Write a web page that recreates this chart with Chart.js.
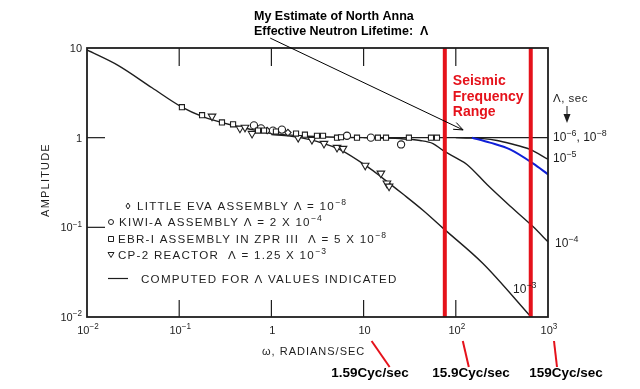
<!DOCTYPE html>
<html>
<head>
<meta charset="utf-8">
<script src="https://cdn.jsdelivr.net/npm/chart.js@4.4.1/dist/chart.umd.min.js"></script>
<style>
  html, body { margin: 0; padding: 0; background: #fff; }
  #wrap { width: 640px; height: 389px; }
</style>
</head>
<body>
<div id="wrap"><canvas id="chart" width="640" height="389"></canvas></div>
<script>
// values: omega in rad/sec, amplitude
const commonOmega = [0.01, 0.0217, 0.0507, 0.107, 0.177, 0.384, 0.62, 1.0];
const commonAmp = [9.5, 6.4, 3.6, 2.19, 1.73, 1.37, 1.23, 1.11];
const flatOmega = [1.0, 2.0, 5.55, 10, 100, 1000];
const flatAmp = [1.11, 1.05, 1.01, 1.0, 1.0, 1.0];
const lam5Omega = [100, 143, 197, 280, 387, 638, 1000];
const lam5Amp = [1.0, 0.99, 0.975, 0.93, 0.86, 0.74, 0.575];
const lam4Omega = [10, 24.8, 40.9, 56.6, 72.6, 103, 132, 218, 387, 687, 1000];
const lam4Amp = [1.0, 0.975, 0.93, 0.86, 0.72, 0.586, 0.503, 0.30, 0.173, 0.102, 0.069];
const lam3Omega = [1.0, 1.59, 2.62, 3.81, 5.55, 10.9, 16.2, 26.7, 44, 72.6, 197, 655];
const lam3Amp = [1.08, 1.04, 0.95, 0.85, 0.737, 0.478, 0.352, 0.235, 0.155, 0.098, 0.0395, 0.01];
const blueOmega = [150, 235, 387, 687, 1000];
const blueAmp = [1.0, 0.88, 0.74, 0.516, 0.39];

// measured points
const squareOmega = [0.107, 0.177, 0.291, 0.384, 0.716, 0.832, 1.12, 1.85, 2.31, 3.12, 3.63, 5.15, 5.69, 8.48, 14.3, 17.5, 31.0, 53.8, 62.5];
const squareAmp = [2.19, 1.78, 1.48, 1.41, 1.20, 1.20, 1.17, 1.11, 1.08, 1.05, 1.05, 1.0, 1.01, 1.0, 1.0, 1.0, 1.0, 1.0, 1.0];
const circleOmega = [0.647, 0.771, 1.04, 1.30, 6.6, 12.0, 25.5];
const circleAmp = [1.37, 1.27, 1.20, 1.23, 1.05, 1.0, 0.84];
const diamondOmega = [0.90, 1.51];
const diamondAmp = [1.20, 1.14];
const triOmega = [0.227, 0.456, 0.517, 0.617, 1.95, 2.75, 3.72, 5.15, 5.98, 10.4, 15.4, 17.9, 18.9];
const triAmp = [1.73, 1.27, 1.30, 1.11, 1.0, 0.95, 0.86, 0.775, 0.756, 0.49, 0.40, 0.31, 0.287];

// seismic band edges (rad/sec)
const seismicOmega = [76, 650];

const xTicks = [0.01, 0.1, 1, 10, 100, 1000];
const xTickLabels = [['10', '−2'], ['10', '−1'], ['1', ''], ['10', ''], ['10', '2'], ['10', '3']];
const yTicks = [10, 1, 0.1, 0.01];
const yTickLabels = [['10', ''], ['1', ''], ['10', '−1'], ['10', '−2']];

const cycOmega = [10, 100, 1000];
const cycLabels = ['1.59Cyc/sec', '15.9Cyc/sec', '159Cyc/sec'];

const legendRows = [
  [['LITTLE EVA ASSEMBLY Λ = 10', 0], ['−8', 1]],
  [['KIWI-A ASSEMBLY Λ = 2 X 10', 0], ['−4', 1]],
  [['EBR-I ASSEMBLY IN ZPR III  Λ = 5 X 10', 0], ['−8', 1]],
  [['CP-2 REACTOR  Λ = 1.25 X 10', 0], ['−3', 1]],
  [['COMPUTED FOR Λ VALUES INDICATED', 0]]
];

const pts = (xs, ys) => xs.map((x, i) => ({ x: x, y: ys[i] }));
const FAM = '"Liberation Sans", Arial, sans-serif';
const INK = '#1e1e1e';
const RED = '#e5121b';

function rich(ctx, parts, x, y, size, align, weight, spacing) {
  ctx.letterSpacing = (spacing || 0) + 'px';
  const fontOf = p => `${weight || 'normal'} ${p[1] ? size * 0.74 : size}px ${FAM}`;
  let w = 0;
  parts.forEach(p => { ctx.font = fontOf(p); w += ctx.measureText(p[0]).width; });
  let cx = align === 'center' ? x - w / 2 : align === 'right' ? x - w : x;
  ctx.textAlign = 'left';
  ctx.textBaseline = 'alphabetic';
  parts.forEach(p => {
    ctx.font = fontOf(p);
    ctx.fillText(p[0], cx, p[1] ? y - size * 0.42 : y);
    cx += ctx.measureText(p[0]).width;
  });
  ctx.letterSpacing = '0px';
}

function marker(ctx, kind, x, y) {
  ctx.beginPath();
  if (kind === 'diamond') { ctx.moveTo(x, y - 3); ctx.lineTo(x + 2, y); ctx.lineTo(x, y + 3); ctx.lineTo(x - 2, y); ctx.closePath(); }
  if (kind === 'circle') ctx.arc(x, y, 2.5, 0, Math.PI * 2);
  if (kind === 'square') ctx.rect(x - 2.5, y - 2.5, 5, 5);
  if (kind === 'tri') { ctx.moveTo(x - 3, y - 2.5); ctx.lineTo(x + 3, y - 2.5); ctx.lineTo(x, y + 2.5); ctx.closePath(); }
  ctx.stroke();
}

const decor = {
  id: 'decor',
  beforeDraw(chart) {
    const ctx = chart.ctx;
    ctx.save();
    ctx.fillStyle = '#fff';
    ctx.fillRect(0, 0, chart.width, chart.height);
    ctx.restore();
  },
  afterDraw(chart) {
    const ctx = chart.ctx, a = chart.chartArea;
    const xs = chart.scales.x, ys = chart.scales.y;
    ctx.save();
    ctx.strokeStyle = INK;
    ctx.fillStyle = INK;

    // frame
    ctx.lineWidth = 1.8;
    ctx.strokeRect(a.left, a.top, a.right - a.left, a.bottom - a.top);

    // inward ticks
    ctx.lineWidth = 1.2;
    xTicks.slice(1, -1).forEach(v => {
      const x = xs.getPixelForValue(v);
      ctx.beginPath();
      ctx.moveTo(x, a.top); ctx.lineTo(x, a.top + 18);
      ctx.moveTo(x, a.bottom); ctx.lineTo(x, a.bottom - 17);
      ctx.stroke();
    });
    yTicks.slice(1, -1).forEach(v => {
      const y = ys.getPixelForValue(v);
      ctx.beginPath();
      ctx.moveTo(a.left, y); ctx.lineTo(a.left + 18, y);
      ctx.stroke();
    });

    // tick labels
    xTicks.forEach((v, i) => {
      const l = xTickLabels[i];
      rich(ctx, [[l[0], 0], [l[1], 1]], xs.getPixelForValue(v) + 1, a.bottom + 17, 11, 'center');
    });
    yTicks.forEach((v, i) => {
      const l = yTickLabels[i];
      rich(ctx, [[l[0], 0], [l[1], 1]], a.left - 5, ys.getPixelForValue(v) + 4, 11, 'right');
    });

    // axis titles
    rich(ctx, [['ω, RADIANS/SEC', 0]], 262, 355, 11, 'left', 'normal', 1);
    ctx.save();
    ctx.translate(49, 180);
    ctx.rotate(-Math.PI / 2);
    rich(ctx, [['AMPLITUDE', 0]], 0, 0, 11, 'center', 'normal', 1.2);
    ctx.restore();

    // legend block inside plot
    const rowY = [210, 226, 243, 259, 283];
    const rowX = [137, 119, 118, 118, 141];
    ['diamond', 'circle', 'square', 'tri'].forEach((k, i) => {
      ctx.lineWidth = 1;
      marker(ctx, k, i === 0 ? 128 : 111, rowY[i] - 4);
    });
    ctx.lineWidth = 1.2;
    ctx.beginPath(); ctx.moveTo(108, rowY[4] - 4.5); ctx.lineTo(128, rowY[4] - 4.5); ctx.stroke();
    legendRows.forEach((r, i) => rich(ctx, r, rowX[i], rowY[i], 11.6, 'left', 'normal', 1.25));

    // curve labels at the right
    const rx = a.right + 5;
    rich(ctx, [['Λ, sec', 0]], rx, 102, 11.5, 'left', 'normal', 0.5);
    ctx.lineWidth = 1;
    ctx.beginPath(); ctx.moveTo(rx + 14, 106); ctx.lineTo(rx + 14, 120); ctx.stroke();
    ctx.beginPath(); ctx.moveTo(rx + 10.5, 114); ctx.lineTo(rx + 17.5, 114); ctx.lineTo(rx + 14, 123); ctx.closePath(); ctx.fill();
    rich(ctx, [['10', 0], ['−6', 1], [', 10', 0], ['−8', 1]], rx, ys.getPixelForValue(1) + 3, 12, 'left');
    rich(ctx, [['10', 0], ['−5', 1]], rx, ys.getPixelForValue(lam5Amp[lam5Amp.length - 1]) + 3, 12, 'left');
    rich(ctx, [['10', 0], ['−4', 1]], rx + 2, ys.getPixelForValue(lam4Amp[lam4Amp.length - 1]) + 5, 12, 'left');
    rich(ctx, [['10', 0], ['−3', 1]], xs.getPixelForValue(lam3Omega[lam3Omega.length - 1]) - 18, ys.getPixelForValue(0.0185), 12, 'left');

    // note with arrow
    ctx.fillStyle = '#000';
    rich(ctx, [['My Estimate of North Anna', 0]], 254, 20, 12.5, 'left', 'bold');
    rich(ctx, [['Effective Neutron Lifetime:  Λ', 0]], 254, 35, 12.5, 'left', 'bold');
    const tx = xs.getPixelForValue(0.97), ty = ys.getPixelForValue(12.9);
    const hx = xs.getPixelForValue(120), hy = ys.getPixelForValue(1.22);
    ctx.strokeStyle = '#000';
    ctx.lineWidth = 1;
    ctx.beginPath(); ctx.moveTo(tx, ty); ctx.lineTo(hx, hy); ctx.stroke();
    const ang = Math.atan2(hy - ty, hx - tx);
    ctx.beginPath();
    ctx.moveTo(hx - 10 * Math.cos(ang - 0.38), hy - 10 * Math.sin(ang - 0.38));
    ctx.lineTo(hx, hy);
    ctx.lineTo(hx - 10 * Math.cos(ang + 0.38), hy - 10 * Math.sin(ang + 0.38));
    ctx.stroke();

    // seismic band caption
    ctx.fillStyle = RED;
    const sx = xs.getPixelForValue(seismicOmega[0]) + 8;
    ['Seismic', 'Frequency', 'Range'].forEach((t, i) => rich(ctx, [[t, 0]], sx, 85 + i * 15.5, 14, 'left', 'bold'));

    // cycles per second labels with red leaders
    ctx.strokeStyle = RED;
    ctx.lineWidth = 2;
    const lead = [[2, 18], [1, 6], [0, 3]];
    const cx = [370, 471, 566];
    cycOmega.forEach((w, i) => {
      const x = xs.getPixelForValue(w);
      ctx.beginPath();
      ctx.moveTo(x + lead[i][0] + 6, a.bottom + 24);
      ctx.lineTo(x + lead[i][0] + 6 + lead[i][1], a.bottom + 50);
      ctx.stroke();
    });
    ctx.fillStyle = '#000';
    cycLabels.forEach((t, i) => rich(ctx, [[t, 0]], cx[i], 377, 13.5, 'center', 'bold'));
    ctx.restore();
  }
};

const line = (data, extra) => Object.assign({
  data: data, showLine: true, pointRadius: 0, borderColor: INK, borderWidth: 1.4,
  cubicInterpolationMode: 'monotone', fill: false, order: 4
}, extra || {});
const dots = (data, style, extra) => Object.assign({
  data: data, showLine: false, pointStyle: style, pointRadius: 3.6, pointBorderWidth: 1.1,
  pointBackgroundColor: '#fff', pointBorderColor: INK, order: 2
}, extra || {});

new Chart(document.getElementById('chart'), {
  type: 'scatter',
  data: {
    datasets: [
      line(pts(commonOmega, commonAmp)),
      line(pts(flatOmega, flatAmp)),
      line(pts(lam5Omega, lam5Amp)),
      line(pts(lam4Omega, lam4Amp)),
      line(pts(lam3Omega, lam3Amp)),
      line(pts(blueOmega, blueAmp), { borderColor: '#1020d8', borderWidth: 2, order: 1 }),
      dots(pts(squareOmega, squareAmp), 'rect'),
      dots(pts(circleOmega, circleAmp), 'circle'),
      dots(pts(diamondOmega, diamondAmp), 'rectRot', { pointRadius: 3.2 }),
      dots(pts(triOmega, triAmp), 'triangle', { rotation: 180, pointRadius: 4.4 }),
      ...seismicOmega.map(w => line([{ x: w, y: 0.01 }, { x: w, y: 10 }], { borderColor: RED, borderWidth: 4, order: 0 }))
    ]
  },
  options: {
    responsive: false,
    animation: false,
    devicePixelRatio: 1,
    layout: { padding: { left: 87, right: 92, top: 48, bottom: 72 } },
    plugins: { legend: { display: false }, tooltip: { enabled: false } },
    scales: {
      x: { type: 'logarithmic', min: 0.01, max: 1000, display: false },
      y: { type: 'logarithmic', min: 0.01, max: 10, display: false }
    }
  },
  plugins: [decor]
});
</script>
</body>
</html>
